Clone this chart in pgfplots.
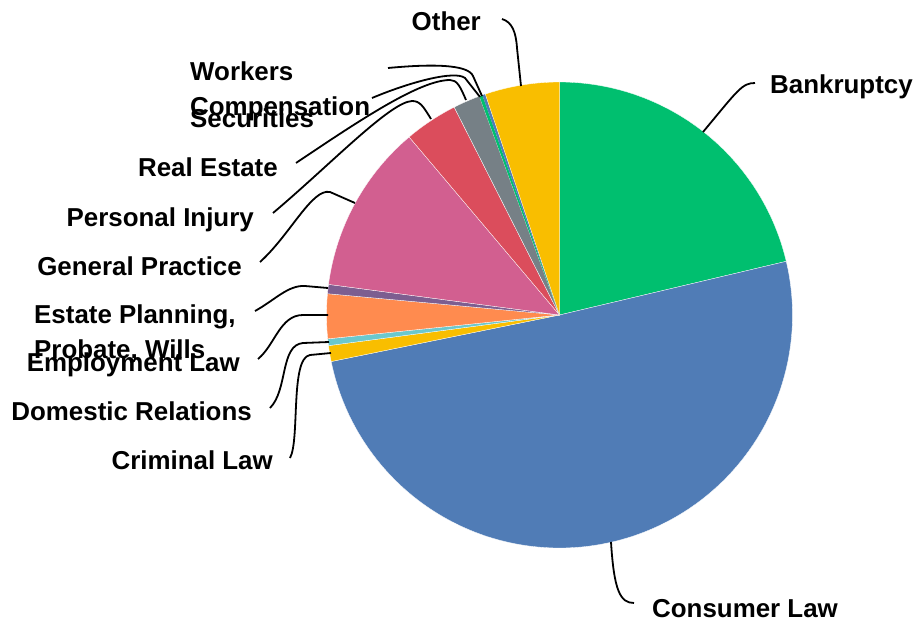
\documentclass[border=0pt]{standalone}
\usepackage{pgfplots}
\pgfplotsset{compat=1.18}
\usepackage{fontspec}
\setmainfont{Liberation Sans}
\definecolor{cGreen}{HTML}{00BF6F}
\definecolor{cBlue}{HTML}{507CB6}
\definecolor{cYellow}{HTML}{F9BE00}
\definecolor{cTeal}{HTML}{6BC8CD}
\definecolor{cOrange}{HTML}{FF8B4F}
\definecolor{cPurple}{HTML}{7D5E90}
\definecolor{cPink}{HTML}{D25F90}
\definecolor{cRed}{HTML}{DB4D5C}
\definecolor{cGray}{HTML}{768086}
\newcommand{\lbl}{\fontsize{26}{30}\selectfont\bfseries}
% shares (percent), clockwise from 12 o'clock:
% Bankruptcy 21.3, Consumer Law 50.5, Criminal Law 1.1, Domestic Relations 0.47,
% Employment Law 3.09, Estate Planning 0.64, General Practice 11.74,
% Personal Injury 3.7, Real Estate 1.875, Securities 0.22,
% Workers Compensation 0.21, Other 5.155
\begin{document}
\begin{tikzpicture}
\begin{axis}[width=917bp,height=622bp,scale only axis,
  xmin=0,xmax=917,ymin=0,ymax=622,y dir=reverse,hide axis,clip=false]
\path (rel axis cs:0,0) rectangle (rel axis cs:1,1);
\pgfplotsset{slice/.style={draw=white,line width=0.3bp,variable=\t}}
\addplot[slice,fill=cGreen,domain=13.32:90,samples=80]
  ({559.5+233*cos(\t)},{315-233*sin(\t)}) -- (559.5,315) -- cycle;
\addplot[slice,fill=cBlue,domain=-168.48:13.32,samples=160]
  ({559.5+233*cos(\t)},{315-233*sin(\t)}) -- (559.5,315) -- cycle;
\addplot[slice,fill=cYellow,domain=-172.44:-168.48,samples=6]
  ({559.5+233*cos(\t)},{315-233*sin(\t)}) -- (559.5,315) -- cycle;
\addplot[slice,fill=cTeal,domain=-174.13:-172.44,samples=4]
  ({559.5+233*cos(\t)},{315-233*sin(\t)}) -- (559.5,315) -- cycle;
\addplot[slice,fill=cOrange,domain=-185.25:-174.13,samples=12]
  ({559.5+233*cos(\t)},{315-233*sin(\t)}) -- (559.5,315) -- cycle;
\addplot[slice,fill=cPurple,domain=-187.55:-185.25,samples=4]
  ({559.5+233*cos(\t)},{315-233*sin(\t)}) -- (559.5,315) -- cycle;
\addplot[slice,fill=cPink,domain=-229.81:-187.55,samples=40]
  ({559.5+233*cos(\t)},{315-233*sin(\t)}) -- (559.5,315) -- cycle;
\addplot[slice,fill=cRed,domain=-243.13:-229.81,samples=14]
  ({559.5+233*cos(\t)},{315-233*sin(\t)}) -- (559.5,315) -- cycle;
\addplot[slice,fill=cGray,domain=-249.88:-243.13,samples=8]
  ({559.5+233*cos(\t)},{315-233*sin(\t)}) -- (559.5,315) -- cycle;
\addplot[fill=cGreen,draw=none,variable=\t,domain=-250.67:-249.88,samples=3]
  ({559.5+233*cos(\t)},{315-233*sin(\t)}) -- (559.5,315) -- cycle;
\addplot[fill=cBlue,draw=none,variable=\t,domain=-251.43:-250.67,samples=3]
  ({559.5+233*cos(\t)},{315-233*sin(\t)}) -- (559.5,315) -- cycle;
\addplot[slice,fill=cYellow,domain=-270:-251.43,samples=20]
  ({559.5+233*cos(\t)},{315-233*sin(\t)}) -- (559.5,315) -- cycle;

% leader lines
\begin{scope}[line width=1.8bp,black]
\draw (703,132) .. controls (738,90) and (742,83) .. (755,83);
\draw (611,542) .. controls (614,590) and (620,603) .. (634,603);
\draw (502,19) .. controls (512,22) and (516,32) .. (517,48) -- (521,86);
\draw (388,68) .. controls (430,64) and (468,64) .. (473,76) -- (482,96);
\draw (372,98) .. controls (410,82) and (455,70) .. (465,78) -- (480,97);
\draw (296,163) .. controls (360,120) and (420,80) .. (450,80) .. controls (457,80) and (460,86) .. (466,100);
\draw (273,213) .. controls (330,165) and (390,102) .. (412,101) .. controls (420,101) and (423,106) .. (431,119);
\draw (260,262) .. controls (290,235) and (312,188) .. (330,192) -- (355,203);
\draw (255,311) .. controls (275,300) and (288,285) .. (305,286) -- (328,288);
\draw (258,359) .. controls (275,345) and (280,315) .. (303,315) -- (328,315);
\draw (270,408) .. controls (288,390) and (280,345) .. (303,343) -- (329,342);
\draw (290,458) .. controls (300,440) and (290,358) .. (310,355) -- (331,353);
\end{scope}

% labels
\node[anchor=base west,font=\lbl,inner sep=0pt] at (770,93.5) {Bankruptcy};
\node[anchor=base west,font=\lbl,inner sep=0pt] at (652,617) {Consumer Law};
\node[anchor=base east,font=\lbl,inner sep=0pt] at (481,31) {Other};
\node[anchor=base west,font=\lbl,inner sep=0pt] at (190,81) {Workers};
\node[anchor=base west,font=\lbl,inner sep=0pt] at (190,127.5) {Securities};
\node[anchor=base west,font=\lbl,inner sep=0pt] at (190,115.5) {Compensation};
\node[anchor=base east,font=\lbl,inner sep=0pt] at (278,176) {Real Estate};
\node[anchor=base east,font=\lbl,inner sep=0pt] at (254,226.5) {Personal Injury};
\node[anchor=base east,font=\lbl,inner sep=0pt] at (242,275) {General Practice};
\node[anchor=base west,font=\lbl,inner sep=0pt] at (34,323.5) {Estate Planning,};
\node[anchor=base west,font=\lbl,inner sep=0pt] at (34,358) {Probate, Wills};
\node[anchor=base east,font=\lbl,inner sep=0pt] at (240,371.5) {Employment Law};
\node[anchor=base east,font=\lbl,inner sep=0pt] at (252,420.5) {Domestic Relations};
\node[anchor=base east,font=\lbl,inner sep=0pt] at (273,469.5) {Criminal Law};
\end{axis}
\end{tikzpicture}
\end{document}
